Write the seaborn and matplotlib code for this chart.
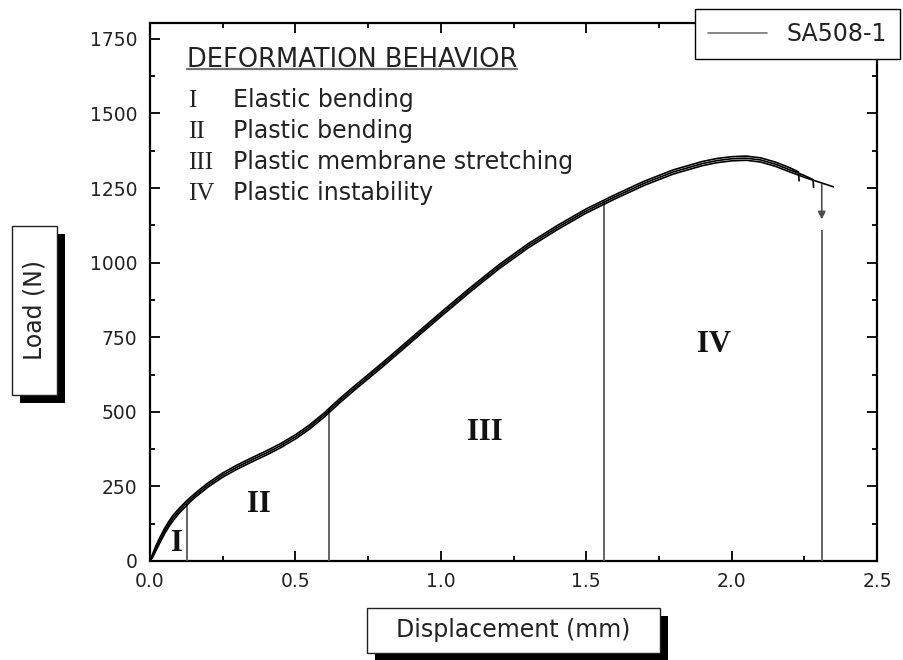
import numpy as np
import pandas as pd
import matplotlib
matplotlib.use('Agg')
import matplotlib.pyplot as plt
import seaborn as sns
from matplotlib.patches import Rectangle
from matplotlib.lines import Line2D
from matplotlib.ticker import MultipleLocator, FormatStrFormatter

# ---------------- data ----------------
disp_common = [0, 0.01, 0.02, 0.035, 0.05, 0.065, 0.08, 0.1, 0.12, 0.14, 0.16, 0.2, 0.25, 0.3,
               0.35, 0.4, 0.45, 0.5, 0.55, 0.6, 0.65, 0.7, 0.8, 0.9, 1.0, 1.1, 1.2, 1.3, 1.4,
               1.5, 1.6, 1.7, 1.8, 1.9, 1.95, 2.0, 2.05, 2.1, 2.15, 2.2]

disp_a = disp_common + [2.23, 2.232]
load_a = [0, 26, 50, 81, 109, 133, 154, 176, 196, 214, 231, 262, 295, 322, 346, 369, 394, 423,
          457, 497, 542, 584, 665, 749, 833, 915, 993, 1063, 1124, 1180, 1228, 1273, 1311, 1339,
          1349, 1355, 1357, 1351, 1337, 1318, 1304, 1274]

disp_b = disp_common + [2.25, 2.28, 2.282]
load_b = [0, 20, 42, 72, 100, 124, 145, 168, 188, 207, 224, 255, 288, 315, 339, 362, 387, 416,
          450, 490, 535, 577, 658, 742, 826, 908, 986, 1056, 1117, 1173, 1221, 1266, 1304, 1332,
          1342, 1348, 1350, 1344, 1330, 1311, 1292, 1278, 1252]

disp_c = disp_common + [2.25, 2.3, 2.35]
load_c = [0, 14, 34, 63, 91, 115, 136, 160, 180, 200, 217, 248, 281, 308, 332, 355, 380, 409,
          443, 483, 528, 570, 651, 735, 819, 901, 979, 1049, 1110, 1166, 1214, 1259, 1297, 1325,
          1335, 1341, 1343, 1337, 1323, 1304, 1286, 1270, 1254]

specimen_label = 'SA508-1'

boundary_x = [0.127, 0.616, 1.56, 2.31]
boundary_top = [190, 505, 1205, 1110]
arrow_from = 1262
arrow_to = 1145

region_labels = ['I', 'II', 'III', 'IV']
region_x = [0.093, 0.375, 1.152, 1.94]
region_y = [60, 188, 432, 727]

heading = 'DEFORMATION BEHAVIOR'
behaviors = ['Elastic bending', 'Plastic bending', 'Plastic membrane stretching', 'Plastic instability']
behavior_y = [1522, 1418, 1314, 1210]

x_label = 'Displacement (mm)'
y_label = 'Load (N)'

# ---------------- figure ----------------
sns.set_theme(style='ticks')
plt.rcParams['font.family'] = ['DejaVu Sans']

W, H = 904, 660
fig = plt.figure(figsize=(W / 100, H / 100), dpi=100)
ax = fig.add_axes([150 / W, 99 / H, 727 / W, 538 / H])

df = pd.concat([
    pd.DataFrame({'disp': disp_a, 'load': load_a, 'spec': 'a'}),
    pd.DataFrame({'disp': disp_b, 'load': load_b, 'spec': 'b'}),
    pd.DataFrame({'disp': disp_c, 'load': load_c, 'spec': 'c'}),
], ignore_index=True)

sns.lineplot(data=df, x='disp', y='load', hue='spec', palette=['black'] * 3,
             sort=False, estimator=None, legend=False, lw=1.2, ax=ax, zorder=4)

ax.set_xlim(0, 2.5)
ax.set_ylim(0, 1803)
ax.xaxis.set_major_locator(MultipleLocator(0.5))
ax.xaxis.set_minor_locator(MultipleLocator(0.25))
ax.yaxis.set_major_locator(MultipleLocator(250))
ax.yaxis.set_minor_locator(MultipleLocator(125))
ax.xaxis.set_major_formatter(FormatStrFormatter('%.1f'))

ax.tick_params(which='both', direction='in', top=True, right=True, width=1.3, colors='black',
               labelsize=13.5, labelcolor='#222222')
ax.tick_params(which='major', length=7)
ax.tick_params(which='minor', length=3.5)
ax.tick_params(axis='x', pad=8)
ax.tick_params(axis='y', pad=9)
for s in ax.spines.values():
    s.set_visible(True)
    s.set_linewidth(1.6)
    s.set_color('black')

# region boundaries
ax.vlines(boundary_x, 0, boundary_top, colors='0.35', lw=1.3, zorder=3)
ax.annotate('', xy=(boundary_x[3], arrow_to), xytext=(boundary_x[3], arrow_from),
            arrowprops=dict(arrowstyle='-|>', color='0.3', lw=1.2, mutation_scale=11,
                            shrinkA=0, shrinkB=0), zorder=3)

# region numerals
for lab, x, y in zip(region_labels, region_x, region_y):
    ax.text(x, y, lab, ha='center', va='center', fontsize=22, fontweight='bold',
            family='Liberation Serif', color='#111111')

# description block
t_head = ax.text(0.127, 1656, heading, ha='left', va='baseline', fontsize=18.5, color='#222222')
for lab, desc, y in zip(region_labels, behaviors, behavior_y):
    ax.text(0.131, y, lab, ha='left', va='baseline', fontsize=18, family='Liberation Serif',
            color='#222222')
    ax.text(0.285, y, desc, ha='left', va='baseline', fontsize=17, color='#222222')

# axis labels in shadowed boxes
ax.set_xlabel(x_label, fontsize=17, color='#222222')
ax.set_ylabel(y_label, fontsize=17, color='#222222')
ax.xaxis.set_label_coords(0.5, (30 - 99) / 538)
ax.xaxis.label.set_va('center')
ax.yaxis.set_label_coords((34.5 - 150) / 727, (349.5 - 99) / 538)
ax.yaxis.label.set_va('center')
ax.yaxis.label.set_ha('center')


def shadow_box(left, top, w, h, off=8):
    fig.add_artist(Rectangle(((left + off) / W, (H - top - h - off) / H), w / W, h / H,
                             transform=fig.transFigure, fc='black', ec='black', lw=0, zorder=-2))
    fig.add_artist(Rectangle((left / W, (H - top - h) / H), w / W, h / H,
                             transform=fig.transFigure, fc='white', ec='#222222', lw=1.0, zorder=-1))


shadow_box(367, 608, 293, 45)
shadow_box(12, 226, 45, 169)

# legend
leg = fig.legend(handles=[Line2D([], [], color='0.45', lw=1.2)], labels=[specimen_label],
                 loc='upper right', bbox_to_anchor=(900 / W, (H - 9) / H),
                 bbox_transform=fig.transFigure, fancybox=False, edgecolor='black',
                 framealpha=1, fontsize=17, handlelength=2.5, handletextpad=0.85,
                 borderpad=0.55, borderaxespad=0)
leg.get_frame().set_linewidth(1.0)
for t in leg.get_texts():
    t.set_color('#222222')

# underline for heading
fig.canvas.draw()
bb = t_head.get_window_extent()
inv = ax.transData.inverted()
x0 = inv.transform((bb.x0, bb.y0))[0]
x1 = inv.transform((bb.x1, bb.y0))[0]
ax.plot([x0, x1], [1649, 1649], color='0.45', lw=1.6)

fig.savefig('out.png', dpi=100)
